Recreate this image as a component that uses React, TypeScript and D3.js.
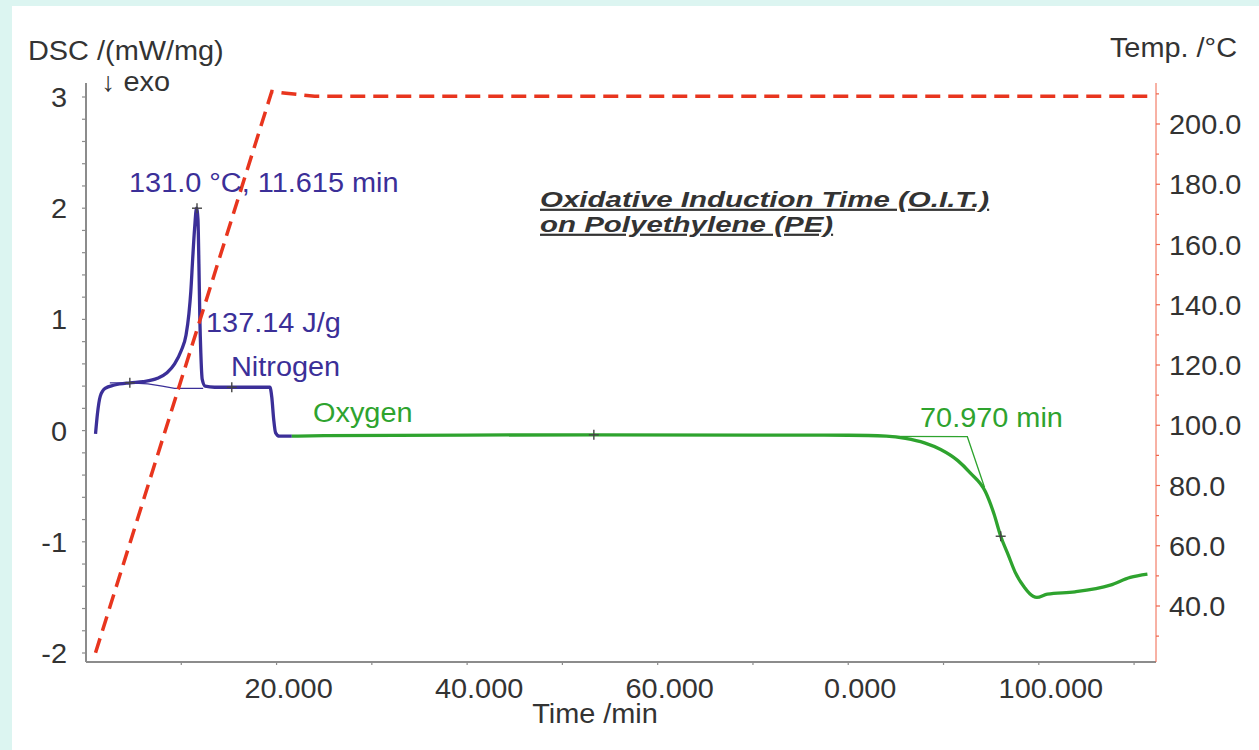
import React from 'react';
import * as d3 from 'd3';

const W = 1259;
const H = 750;

// DSC signal under nitrogen (time /min, DSC /(mW/mg))
const nitrogenCurve: [number, number][] = [
  [1.0, -0.03], [1.2, 0.15], [1.5, 0.31], [2.0, 0.38], [3.0, 0.41], [4.6, 0.43],
  [6.0, 0.44], [7.5, 0.47], [8.5, 0.52], [9.3, 0.6], [10.0, 0.72], [10.5, 0.86],
  [10.8, 1.05], [11.0, 1.25], [11.2, 1.55], [11.4, 1.82], [11.6, 2.0], [11.75, 1.9],
  [11.85, 1.5], [11.95, 1.0], [12.05, 0.7], [12.2, 0.46], [12.5, 0.4], [13.5, 0.39],
  [19.3, 0.39], [19.5, 0.3], [19.7, 0.1], [19.9, -0.02], [20.3, -0.05], [21.6, -0.05],
];

// integration baseline of the melting peak
const nitrogenBaseline: [number, number][] = [
  [2.5, 0.43], [4.6, 0.43], [6.5, 0.42], [8.0, 0.4], [9.3, 0.38], [12.3, 0.38],
];

// DSC signal under oxygen
const oxygenCurve: [number, number][] = [
  [21.6, -0.05], [25, -0.045], [40, -0.04], [53.3, -0.038], [70, -0.04], [80, -0.042],
  [84, -0.05], [86, -0.07], [88, -0.11], [89.7, -0.17], [91.5, -0.27], [92.8, -0.38],
  [94.4, -0.55], [95.3, -0.75], [96.0, -0.95], [96.8, -1.12], [97.5, -1.27], [98.5, -1.41],
  [99.4, -1.49], [99.8, -1.5], [100.9, -1.47], [103.8, -1.45], [107.5, -1.39],
  [109.6, -1.32], [111.4, -1.29],
];

// onset construction (baseline + tangent)
const oxygenOnset: [number, number][] = [[83, -0.052], [92.5, -0.055], [94.3, -0.51]];

// furnace temperature (time /min, °C)
const tempCurve: [number, number][] = [
  [1.0, 24.5], [19.5, 210.8], [21, 210.2], [24, 209.2], [111.7, 209.2],
];

// "+" markers on the DSC curves
const markers: [number, number][] = [
  [4.6, 0.43], [11.65, 2.0], [15.3, 0.39], [53.3, -0.038], [96.0, -0.95],
];

const xTickValues = [20, 40, 60, 80, 100];
const xTickLabels = ['20.000', '40.000', '60.000', '0.000', '100.000'];
const dscTickValues = [-2, -1, 0, 1, 2, 3];
const dscTickLabels = ['-2', '-1', '0', '1', '2', '3'];
const tempTickValues = [40, 60, 80, 100, 120, 140, 160, 180, 200];
const tempTickLabels = ['40.0', '60.0', '80.0', '100.0', '120.0', '140.0', '160.0', '180.0', '200.0'];
const titleLines = ['Oxidative Induction Time (O.I.T.)', 'on Polyethylene (PE)'];

const BLUE = '#3b2f98';
const GREEN = '#2ea32e';
const RED = '#e8351e';
const TEXT = '#333';
const FONT = '"Liberation Sans", Arial, sans-serif';

const top = 83;
const bottom = 662;
const left = 86;
const right = 1156;

const x = d3.scaleLinear().domain([0, 112.3]).range([left, right]);
const yDsc = d3.scaleLinear().domain([-2, 3]).range([653, 97]);
const yTemp = d3.scaleLinear().domain([40, 200]).range([606, 124]);

const dscLine = d3.line<[number, number]>()
  .x(d => x(d[0]))
  .y(d => yDsc(d[1]))
  .curve(d3.curveMonotoneX);
const straight = d3.line<[number, number]>()
  .x(d => x(d[0]))
  .y(d => yDsc(d[1]));
const tempLine = d3.line<[number, number]>()
  .x(d => x(d[0]))
  .y(d => yTemp(d[1]));

interface LabelProps {
  x: number;
  y: number;
  size?: number;
  sx?: number;
  anchor?: 'start' | 'middle' | 'end';
  fill?: string;
  bold?: boolean;
  children: React.ReactNode;
}

// text is a bit wider in the original, hence the small horizontal stretch
const Label: React.FC<LabelProps> = ({
  x: lx, y: ly, size = 27, sx = 1.07, anchor = 'start', fill = TEXT, bold, children,
}) => (
  <text
    transform={`translate(${lx},${ly}) scale(${sx},1)`}
    textAnchor={anchor}
    fill={fill}
    fontSize={size}
    fontFamily={FONT}
    fontWeight={bold ? 'bold' : 'normal'}
    fontStyle={bold ? 'italic' : 'normal'}
    style={bold ? { textDecoration: 'underline' } : undefined}
  >
    {children}
  </text>
);

const App: React.FC = () => {
  const dscMinor = d3.range(-2, 3.0001, 0.2);
  const timeMinor = d3.range(10, 111, 10);
  const tempMinor = d3.range(30, 211, 10);

  return (
    <svg width={W} height={H} style={{ position: 'absolute', left: 0, top: 0 }}>
      <rect width={W} height={H} fill="#dcf5f1" />
      <rect x={12} y={6} width={W - 12} height={H - 6} fill="#fff" />

      {/* left DSC axis */}
      <line x1={left} x2={left} y1={top} y2={bottom} stroke="#8c8c8c" strokeWidth={2} />
      {dscMinor.map((v, i) => (
        <line key={'dm' + i} x1={left - 4} x2={left} y1={yDsc(v)} y2={yDsc(v)} stroke="#8c8c8c" strokeWidth={1.2} />
      ))}
      {dscTickValues.map((v, i) => (
        <Label key={'dl' + i} x={67} y={yDsc(v) + 10} anchor="end">{dscTickLabels[i]}</Label>
      ))}

      {/* bottom time axis */}
      <line x1={left} x2={right} y1={bottom} y2={bottom} stroke="#8c8c8c" strokeWidth={2} />
      {timeMinor.map((v, i) => (
        <line key={'tm' + i} x1={x(v)} x2={x(v)} y1={bottom} y2={bottom + 3} stroke="#8c8c8c" strokeWidth={1.2} />
      ))}
      {xTickValues.map((v, i) => (
        <Label key={'tl' + i} x={x(v) + 12} y={698} anchor="middle">{xTickLabels[i]}</Label>
      ))}

      {/* right temperature axis */}
      <line x1={right} x2={right} y1={top} y2={bottom} stroke="#f0644a" strokeWidth={1} />
      {tempMinor.map((v, i) => (
        <line key={'rm' + i} x1={right} x2={right + (v % 20 === 0 ? 4 : 3)} y1={yTemp(v)} y2={yTemp(v)} stroke="#f0644a" strokeWidth={1.2} />
      ))}
      {tempTickValues.map((v, i) => (
        <Label key={'rl' + i} x={1169} y={yTemp(v) + 10}>{tempTickLabels[i]}</Label>
      ))}

      {/* axis titles */}
      <Label x={28} y={60}>DSC /(mW/mg)</Label>
      <Label x={101} y={91}>↓ exo</Label>
      <Label x={1237} y={57} anchor="end">Temp. /°C</Label>
      <Label x={595} y={723} anchor="middle">Time /min</Label>

      {/* title */}
      {titleLines.map((t, i) => (
        <Label key={t} x={540} y={207 + i * 25} size={22} sx={1.34} bold>{t}</Label>
      ))}

      {/* DSC curves */}
      <path d={straight(nitrogenBaseline) ?? ''} fill="none" stroke={BLUE} strokeWidth={1.3} />
      <path d={dscLine(nitrogenCurve) ?? ''} fill="none" stroke={BLUE} strokeWidth={3.3} strokeLinejoin="round" />
      <path d={straight(oxygenOnset) ?? ''} fill="none" stroke={GREEN} strokeWidth={1.3} />
      <path d={dscLine(oxygenCurve) ?? ''} fill="none" stroke={GREEN} strokeWidth={3.3} strokeLinejoin="round" />

      {markers.map((m, i) => (
        <g key={'mk' + i} stroke="#444" strokeWidth={1.4}>
          <line x1={x(m[0]) - 5} x2={x(m[0]) + 5} y1={yDsc(m[1])} y2={yDsc(m[1])} />
          <line x1={x(m[0])} x2={x(m[0])} y1={yDsc(m[1]) - 5} y2={yDsc(m[1]) + 5} />
        </g>
      ))}

      {/* temperature program */}
      <path d={tempLine(tempCurve) ?? ''} fill="none" stroke={RED} strokeWidth={3.5} strokeDasharray="15 8" />

      {/* annotations */}
      <Label x={129} y={192} fill={BLUE}>131.0 °C, 11.615 min</Label>
      <Label x={206} y={332} fill={BLUE}>137.14 J/g</Label>
      <Label x={231} y={376} fill={BLUE}>Nitrogen</Label>
      <Label x={313} y={422} fill={GREEN}>Oxygen</Label>
      <Label x={920} y={427} fill={GREEN}>70.970 min</Label>
    </svg>
  );
};

export default App;
